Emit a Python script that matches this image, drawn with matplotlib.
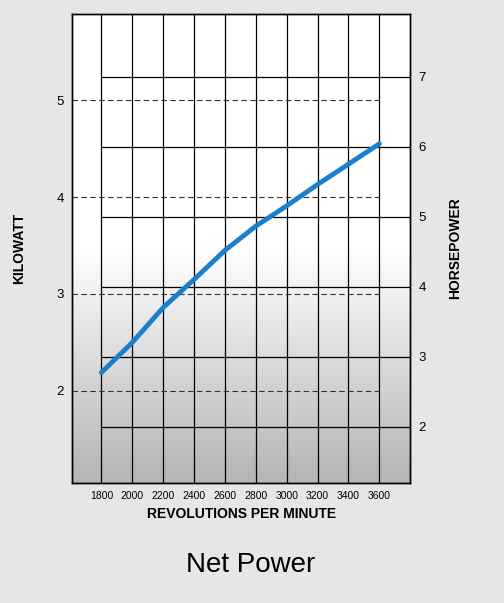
import numpy as np
import matplotlib.pyplot as plt
from matplotlib.colors import LinearSegmentedColormap

plt.rcParams['font.family'] = ['Liberation Sans', 'DejaVu Sans']

rpm = [1800, 2000, 2200, 2400, 2600, 2800, 3000, 3200, 3400, 3600]
kw = [2.19, 2.50, 2.86, 3.15, 3.45, 3.70, 3.91, 4.13, 4.34, 4.55]
kw_ticks = [2, 3, 4, 5]
hp_ticks = [2, 3, 4, 5, 6, 7]

fig = plt.figure(figsize=(5.04, 6.03), dpi=100)
fig.patch.set_facecolor('#e6e6e8')
ax = fig.add_axes([0.143, 0.199, 0.671, 0.778])
xmin, xmax, ymin, ymax = 1610, 3800, 1.05, 5.89
hpmin, hpmax = 1.2, 7.9
ax.set_xlim(xmin, xmax)
ax.set_ylim(ymin, ymax)


def hp_to_axis(h):
    return ymin + (h - hpmin) / (hpmax - hpmin) * (ymax - ymin)


# background gradient, white at top to grey at bottom
cmap = LinearSegmentedColormap.from_list('g', ['#ffffff', '#ffffff', '#b4b4b6'])
grad = np.linspace(0, 1, 256).reshape(-1, 1)
ax.imshow(grad, aspect='auto', cmap=cmap, origin='upper',
          extent=[xmin, xmax, ymin, ymax], zorder=0)

for x in rpm:
    ax.axvline(x, color='black', lw=0.9, zorder=1)
for k in kw_ticks:
    ax.plot([xmin, 3600], [k, k], color='#333333', lw=0.8, ls=(0, (5, 3)), zorder=1)
for h in hp_ticks:
    ax.plot([1800, xmax], [hp_to_axis(h)] * 2, color='black', lw=0.9, zorder=1)

ax.plot(rpm, kw, color='#1a7fcc', lw=3.5, solid_capstyle='round', zorder=3)

ax.set_xticks(rpm)
ax.set_xticklabels([str(r) for r in rpm], fontsize=7.5)
ax.set_yticks(kw_ticks)
ax.set_yticklabels([str(k) for k in kw_ticks], fontsize=9.5)
ax.tick_params(length=0, pad=6)
ax.set_xlabel('REVOLUTIONS PER MINUTE', fontsize=10, fontweight='bold', labelpad=4)
ax.set_ylabel('KILOWATT', fontsize=10, fontweight='bold', labelpad=22)

ax2 = ax.twinx()
ax2.set_ylim(hpmin, hpmax)
ax2.set_yticks(hp_ticks)
ax2.set_yticklabels([str(h) for h in hp_ticks], fontsize=9.5)
ax2.tick_params(length=0, pad=6)
ax2.set_ylabel('HORSEPOWER', fontsize=10, fontweight='bold', labelpad=16)

for a in (ax, ax2):
    for s in a.spines.values():
        s.set_color('black')
        s.set_linewidth(1)

fig.text(0.498, 0.063, 'Net Power', fontsize=20, ha='center', va='center')

fig.savefig('out.png', dpi=100, facecolor=fig.get_facecolor())
